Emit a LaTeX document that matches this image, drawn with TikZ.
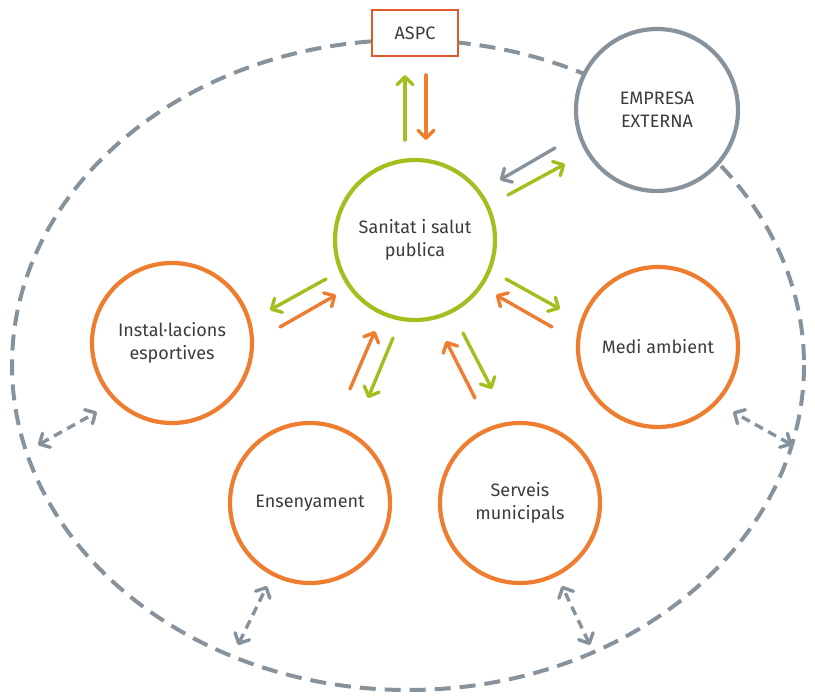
\documentclass[tikz,border=0pt]{standalone}
\usepackage{fontspec}
\setmainfont{Fira Sans}
\usetikzlibrary{arrows.meta}

\definecolor{orangeline}{RGB}{238,125,47}
\definecolor{redline}{RGB}{224,89,42}
\definecolor{greenline}{RGB}{164,189,31}
\definecolor{grayline}{RGB}{135,147,156}
\definecolor{textgray}{RGB}{60,60,60}

\tikzset{
  every picture/.style={line width=0.75pt},
  area/.style={circle, draw=orangeline, line width=4.2pt, fill=white, minimum size=160pt,
    align=center, text=textgray, font=\fontsize{18}{23}\selectfont},
  hub/.style={area, draw=greenline},
  extern/.style={area, draw=grayline, minimum size=162pt},
  agency/.style={draw=redline, line width=2.8pt, fill=white, minimum width=86pt, minimum height=46pt,
    text=textgray, font=\fontsize{18}{23}\selectfont},
  tip/.style={-{Straight Barb[length=8pt,width=16pt,line cap=round,line join=round]}, line width=3.4pt, line cap=round},
  garr/.style={tip, draw=greenline},
  oarr/.style={tip, draw=orangeline},
  sarr/.style={tip, draw=grayline},
  link/.style={{Straight Barb[length=8pt,width=16pt,line cap=round,line join=round]}-{Straight Barb[length=8pt,width=16pt,line cap=round,line join=round]},
    draw=grayline, line width=3.4pt, dash pattern=on 9pt off 6pt},
  ring/.style={draw=grayline, line width=4pt, dash pattern=on 16pt off 9pt}
}

\begin{document}
\begin{tikzpicture}[x=1pt,y=-1pt]
\useasboundingbox (0,0) rectangle (815,698);

% outer boundary
\draw[ring] (408,365) ellipse [x radius=396, y radius=325];

% actors
\node[agency] (aspc) at (415,33) {ASPC};
\node[extern] (emp) at (657,110) {EMPRESA\\EXTERNA};
\node[hub] (san) at (415,240) {Sanitat i salut\\publica};
\node[area] (ins) at (172,343) {Instal·lacions\\esportives};
\node[area] (medi) at (658,347) {Medi ambient};
\node[area] (ens) at (310,503) {Ensenyament};
\node[area] (serv) at (520,503) {Serveis\\municipals};

% arrow ends
\coordinate (a1) at (405,140); \coordinate (a2) at (405,75);
\coordinate (a3) at (426,75);  \coordinate (a4) at (426,140);
\coordinate (e1) at (555,148); \coordinate (e2) at (500,180);
\coordinate (e3) at (508,195); \coordinate (e4) at (565,164);
\coordinate (i1) at (326,279); \coordinate (i2) at (270,310);
\coordinate (i3) at (280,327); \coordinate (i4) at (336,295);
\coordinate (m1) at (506,279); \coordinate (m2) at (560,309);
\coordinate (m3) at (552,327); \coordinate (m4) at (496,295);
\coordinate (n1) at (350,389); \coordinate (n2) at (375,331);
\coordinate (n3) at (393,338); \coordinate (n4) at (368,398);
\coordinate (s1) at (475,398); \coordinate (s2) at (446,341);
\coordinate (s3) at (463,333); \coordinate (s4) at (492,389);

% flows to and from the hub
\draw[garr] (a1) -- (a2);
\draw[oarr] (a3) -- (a4);
\draw[sarr] (e1) -- (e2);
\draw[garr] (e3) -- (e4);
\draw[garr] (i1) -- (i2);
\draw[oarr] (i3) -- (i4);
\draw[garr] (m1) -- (m2);
\draw[oarr] (m3) -- (m4);
\draw[oarr] (n1) -- (n2);
\draw[garr] (n3) -- (n4);
\draw[oarr] (s1) -- (s2);
\draw[garr] (s3) -- (s4);

% links to the boundary
\coordinate (b1) at (38,445);  \coordinate (b2) at (97,412);
\coordinate (b3) at (792,445); \coordinate (b4) at (733,412);
\coordinate (b5) at (238,645); \coordinate (b6) at (267,586);
\coordinate (b7) at (590,645); \coordinate (b8) at (562,586);
\draw[link] (b1) -- (b2);
\draw[link] (b3) -- (b4);
\draw[link] (b5) -- (b6);
\draw[link] (b7) -- (b8);

\end{tikzpicture}
\end{document}
